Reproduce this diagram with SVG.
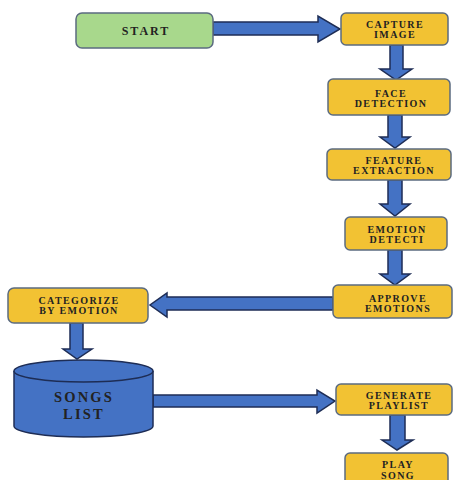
<svg xmlns="http://www.w3.org/2000/svg" width="454" height="480" viewBox="0 0 454 480">
<style>
.box{fill:#F2C233;stroke:#5B6B80;stroke-width:1.5}
.start{fill:#A8D88C;stroke:#5B6B80;stroke-width:1.5}
.arr{fill:#4472C4;stroke:#1E2D55;stroke-width:1.5;stroke-linejoin:miter}
.db{fill:#4472C4;stroke:#1E2D55;stroke-width:1.5}
text{font-family:"Liberation Serif","Times New Roman",serif;font-weight:bold;fill:#222;text-anchor:middle}
.t{font-size:10px;letter-spacing:1.4px}
.s{font-size:14.5px;letter-spacing:2.2px}
</style>
<rect width="454" height="480" fill="#fff"/>
<g id="connectors">
<polygon class="arr" points="213,22 318,22 318,16 340,29 318,42 318,35 213,35"/>
<polygon class="arr" points="390,45 403,45 403,69 412,69 396,80 380,69 390,69"/>
<polygon class="arr" points="388,115 402,115 402,137 410,137 395,148 380,137 388,137"/>
<polygon class="arr" points="388,180 402,180 402,204 410,204 395,216 380,204 388,204"/>
<polygon class="arr" points="388,250 402,250 402,274 410,274 395,285 380,274 388,274"/>
<polygon class="arr" points="333,297 167,297 167,293 150,305 167,317 167,310 333,310"/>
<polygon class="arr" points="70,323 83,323 83,349 92,349 77,359 63,349 70,349"/>
<polygon class="arr" points="153,395 317,395 317,390 335,401 317,413 317,407 153,407"/>
<polygon class="arr" points="390,415 405,415 405,440 413,440 397,450 382,440 390,440"/>
</g>
<g id="start"><rect class="start" x="76" y="13" width="137" height="35" rx="6"/><text x="146" y="35" font-size="12" letter-spacing="2">START</text></g>
<g id="capture"><rect class="box" x="341" y="13" width="107" height="32" rx="5"/><text class="t" x="395" y="28">CAPTURE</text><text class="t" x="395" y="38">IMAGE</text></g>
<g id="face"><rect class="box" x="328" y="79" width="122" height="36" rx="5"/><text class="t" x="391" y="97">FACE</text><text class="t" x="391" y="107">DETECTION</text></g>
<g id="feature"><rect class="box" x="327" y="149" width="124" height="31" rx="5"/><text class="t" x="394" y="164">FEATURE</text><text class="t" x="394" y="174">EXTRACTION</text></g>
<g id="emotion"><rect class="box" x="345" y="217" width="102" height="33" rx="5"/><text class="t" x="397" y="233">EMOTION</text><text class="t" x="397" y="243">DETECTI</text></g>
<g id="approve"><rect class="box" x="333" y="285" width="119" height="33" rx="5"/><text class="t" x="398" y="302">APPROVE</text><text class="t" x="398" y="312">EMOTIONS</text></g>
<g id="categorize"><rect class="box" x="8" y="288" width="140" height="35" rx="6"/><text class="t" x="79" y="304">CATEGORIZE</text><text class="t" x="79" y="314">BY EMOTION</text></g>
<g id="songs">
<path class="db" d="M14,371 L14,426 A69.5,11 0 0 0 153,426 L153,371"/>
<ellipse class="db" cx="83.5" cy="371" rx="69.5" ry="11"/>
<text class="s" x="84" y="402">SONGS</text><text class="s" x="84" y="419">LIST</text>
</g>
<g id="generate"><rect class="box" x="336" y="384" width="116" height="31" rx="5"/><text class="t" x="399" y="399">GENERATE</text><text class="t" x="399" y="409">PLAYLIST</text></g>
<g id="play"><rect class="box" x="345" y="453" width="103" height="35" rx="5"/><text class="t" x="398" y="468">PLAY</text><text class="t" x="398" y="479">SONG</text></g>
</svg>
